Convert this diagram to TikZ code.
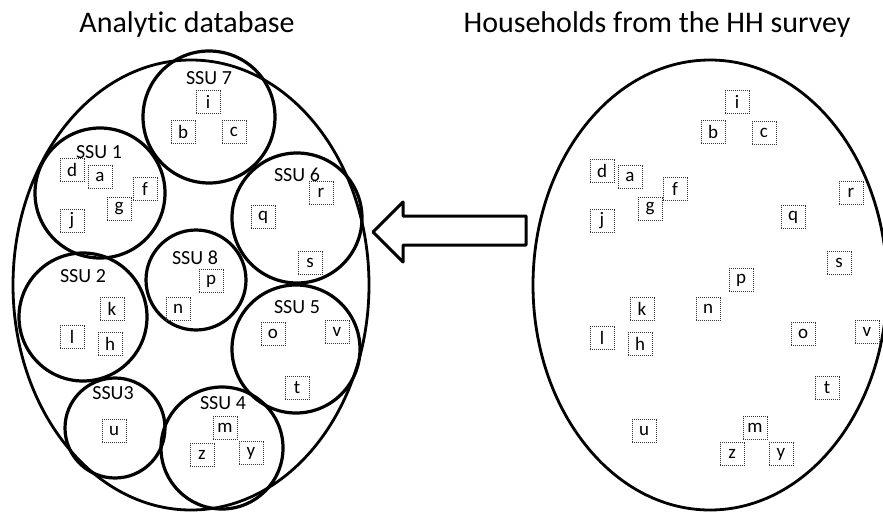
\documentclass[tikz,border=0pt]{standalone}
\usepackage{fontspec}
\setmainfont[Ligatures=NoCommon]{Carlito}
\begin{document}
\begin{tikzpicture}[x=1pt,y=-1pt,
  ssu/.style={circle,draw=black,line width=3.2pt,inner sep=0pt},
  hh/.style={draw=black!80,densely dotted,line width=1pt,minimum width=24pt,minimum height=23pt,inner sep=0pt,font=\fontsize{19}{19}\selectfont},
  lbl/.style={inner sep=0pt,font=\fontsize{20}{20}\selectfont},
  ttl/.style={inner sep=0pt,anchor=base,font=\fontsize{30}{30}\selectfont}]
\useasboundingbox (0,0) rectangle (883,512);
% titles
\node[ttl] (t1) at (187,32) {Analytic database};
\node[ttl] (t2) at (657,32) {Households from the HH survey};
% outer ellipses
\draw[line width=2.8pt] (191,285) ellipse [x radius=178, y radius=225];
\draw[line width=2.8pt] (710,285) ellipse [x radius=177, y radius=225];
% arrow
\draw[line width=3pt,line join=round] (373,232) -- (403,202) -- (403,216) -- (526,216) -- (526,245) -- (403,245) -- (403,262) -- cycle;
% SSU circles
\node[ssu,minimum size=132pt] (c7) at (209,117) {};
\node[ssu,minimum size=130pt] (c1) at (100,193) {};
\node[ssu,minimum size=130pt] (c6) at (297,218) {};
\node[ssu,minimum size=100pt] (c8) at (196,280) {};
\node[ssu,minimum size=128pt] (c2) at (83,317) {};
\node[ssu,minimum size=128pt] (c5) at (296,349) {};
\node[ssu,minimum size=100pt] (c3) at (115,428) {};
\node[ssu,minimum size=122pt] (c4) at (222,448) {};
% SSU labels
\node[lbl] (l7) at (209,78) {SSU 7};
\node[lbl] (l1) at (99,152) {SSU 1};
\node[lbl] (l6) at (297,175) {SSU 6};
\node[lbl] (l8) at (195,258) {SSU 8};
\node[lbl] (l2) at (83,276) {SSU 2};
\node[lbl] (l5) at (297,307) {SSU 5};
\node[lbl] (l3) at (113,393) {SSU3};
\node[lbl] (l4) at (223,403) {SSU 4};
% left boxes
\node[hh] (Li) at (208,102) {i};
\node[hh] (Lb) at (183,132) {b};
\node[hh] (Lc) at (234,132) {c};
\node[hh] (Ld) at (72,170) {d};
\node[hh] (La) at (100,177) {a};
\node[hh] (Lf) at (145,189) {f};
\node[hh] (Lg) at (119,209) {g};
\node[hh] (Lj) at (72,221) {j};
\node[hh] (Lr) at (321,193) {r};
\node[hh] (Lq) at (263,217) {q};
\node[hh] (Ls) at (310,263) {s};
\node[hh] (Lp) at (211,281) {p};
\node[hh] (Ln) at (178,309) {n};
\node[hh] (Lk) at (112,309) {k};
\node[hh] (Ll) at (72,337) {l};
\node[hh] (Lh) at (110,344) {h};
\node[hh] (Lo) at (273,334) {o};
\node[hh] (Lv) at (337,332) {v};
\node[hh] (Lt) at (297,388) {t};
\node[hh] (Lu) at (114,431) {u};
\node[hh] (Lm) at (225,428) {m};
\node[hh] (Lz) at (202,455) {z};
\node[hh] (Ly) at (251,453) {y};
% right boxes
\node[hh] (Ri) at (737,102) {i};
\node[hh] (Rb) at (713,132) {b};
\node[hh] (Rc) at (764,133) {c};
\node[hh] (Rd) at (602,171) {d};
\node[hh] (Ra) at (630,177) {a};
\node[hh] (Rf) at (675,189) {f};
\node[hh] (Rg) at (650,209) {g};
\node[hh] (Rj) at (602,221) {j};
\node[hh] (Rr) at (851,193) {r};
\node[hh] (Rq) at (793,217) {q};
\node[hh] (Rs) at (839,263) {s};
\node[hh] (Rp) at (741,280) {p};
\node[hh] (Rk) at (642,309) {k};
\node[hh] (Rn) at (708,309) {n};
\node[hh] (Rl) at (602,338) {l};
\node[hh] (Rh) at (640,344) {h};
\node[hh] (Ro) at (803,334) {o};
\node[hh] (Rv) at (867,332) {v};
\node[hh] (Rt) at (827,388) {t};
\node[hh] (Ru) at (644,431) {u};
\node[hh] (Rm) at (755,428) {m};
\node[hh] (Rz) at (732,454) {z};
\node[hh] (Ry) at (781,454) {y};
\end{tikzpicture}
\end{document}
